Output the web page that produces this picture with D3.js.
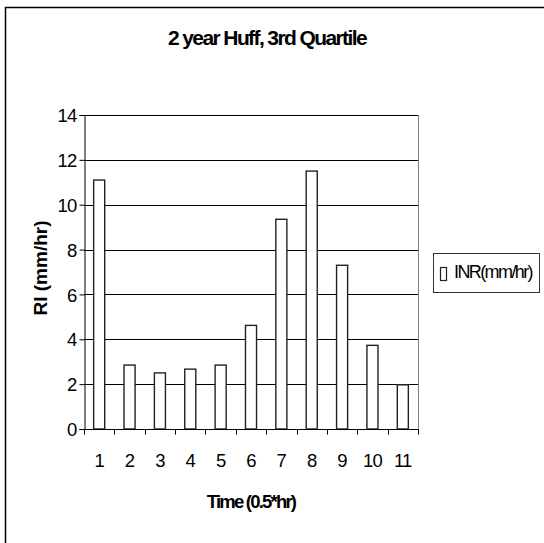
<!DOCTYPE html>
<html>
<head>
<meta charset="utf-8">
<script src="https://cdn.jsdelivr.net/npm/d3@7"></script>
<style>
  html, body { margin: 0; padding: 0; background: #fff; }
  svg { display: block; }
  text { font-family: "Liberation Sans", Arial, sans-serif; fill: #000; }
</style>
</head>
<body>
<svg id="chart" width="544" height="543"></svg>
<script>
// Rainfall intensity per half-hour step
const categories = ["1", "2", "3", "4", "5", "6", "7", "8", "9", "10", "11"];
const intensity = [11.1, 2.85, 2.5, 2.67, 2.85, 4.62, 9.35, 11.5, 7.3, 3.73, 1.97];
const yTicks = [0, 2, 4, 6, 8, 10, 12, 14];
const seriesName = "INR(mm/hr)";
const titleText = "2 year Huff, 3rd Quartile";
const xTitle = "Time (0.5*hr)";
const yTitle = "RI (mm/hr)";

const svg = d3.select("#chart");
const plot = { left: 84, right: 418, top: 115, bottom: 429 };

// Outer chart frame (open on the right and bottom edges of the window)
svg.append("rect")
  .attr("x", 5.5).attr("y", 7.5)
  .attr("width", 600).attr("height", 600)
  .attr("fill", "#fff")
  .attr("stroke", "#000").attr("stroke-width", 1.5);

const x = d3.scaleBand()
  .domain(categories)
  .range([plot.left, plot.right])
  .paddingInner(0.636)
  .paddingOuter(0.318);

const y = d3.scaleLinear().domain([0, 14]).range([plot.bottom, plot.top]);

// Horizontal gridlines
svg.append("g")
  .selectAll("line")
  .data(yTicks.filter(d => d > 0))
  .join("line")
  .attr("x1", plot.left).attr("x2", plot.right)
  .attr("y1", d => Math.round(y(d)) + 0.5).attr("y2", d => Math.round(y(d)) + 0.5)
  .attr("stroke", "#000").attr("stroke-width", 1);

// Right edge of the plot area
svg.append("line")
  .attr("x1", plot.right + 0.5).attr("x2", plot.right + 0.5)
  .attr("y1", plot.top).attr("y2", plot.bottom)
  .attr("stroke", "#808080").attr("stroke-width", 1);

// Bars
svg.append("g")
  .selectAll("rect")
  .data(intensity)
  .join("rect")
  .attr("x", (d, i) => x(categories[i]))
  .attr("y", d => y(d))
  .attr("width", x.bandwidth())
  .attr("height", d => y(0) - y(d))
  .attr("fill", "#fff")
  .attr("stroke", "#222").attr("stroke-width", 1.4);

// Y axis
const yAxis = d3.axisLeft(y).tickValues(yTicks).tickSize(5).tickPadding(3).tickFormat(d3.format("d"));
const gy = svg.append("g")
  .attr("transform", `translate(${plot.left + 0.5},0)`)
  .call(yAxis);
gy.select(".domain").attr("stroke", "#000");
gy.selectAll(".tick line").attr("stroke", "#000");
gy.selectAll(".tick text")
  .attr("font-size", 18.5)
  .attr("letter-spacing", -0.8)
  .attr("font-family", "Liberation Sans, Arial, sans-serif")
  .attr("dy", "0.36em");

// X axis: ticks sit on category boundaries
const gx = svg.append("g")
  .attr("transform", `translate(0,${plot.bottom + 0.5})`);
gx.append("line")
  .attr("x1", plot.left).attr("x2", plot.right + 1)
  .attr("stroke", "#000");
const boundaries = categories.map(c => x(c) - x.step() * x.paddingInner() / 2)
  .concat([plot.right]);
gx.selectAll("line.tk")
  .data(boundaries)
  .join("line")
  .attr("class", "tk")
  .attr("x1", d => Math.round(d) + 0.5).attr("x2", d => Math.round(d) + 0.5)
  .attr("y1", 0).attr("y2", 5)
  .attr("stroke", "#000");
gx.selectAll("text")
  .data(categories)
  .join("text")
  .attr("x", d => x(d) + x.bandwidth() / 2)
  .attr("y", 37.5)
  .attr("text-anchor", "middle")
  .attr("font-size", 18.5)
  .attr("letter-spacing", -0.8)
  .text(d => d);

// Titles
svg.append("text")
  .attr("x", 267).attr("y", 45)
  .attr("text-anchor", "middle")
  .attr("font-size", 21).attr("font-weight", "bold")
  .attr("letter-spacing", -1.6)
  .text(titleText);

svg.append("text")
  .attr("x", 251).attr("y", 508)
  .attr("text-anchor", "middle")
  .attr("font-size", 18.5).attr("font-weight", "bold")
  .attr("letter-spacing", -1.8)
  .text(xTitle);

svg.append("text")
  .attr("transform", "translate(47,268) rotate(-90)")
  .attr("text-anchor", "middle")
  .attr("font-size", 19).attr("font-weight", "bold")
  .text(yTitle);

// Legend
const lg = svg.append("g");
lg.append("rect")
  .attr("x", 433.5).attr("y", 253.5)
  .attr("width", 106).attr("height", 39)
  .attr("fill", "#fff")
  .attr("stroke", "#333").attr("stroke-width", 1);
lg.append("rect")
  .attr("x", 440.5).attr("y", 267.5)
  .attr("width", 6).attr("height", 13)
  .attr("fill", "#fff")
  .attr("stroke", "#222").attr("stroke-width", 1.2);
lg.append("text")
  .attr("x", 454).attr("y", 278)
  .attr("font-size", 18)
  .attr("letter-spacing", -1.6)
  .text(seriesName);
</script>
</body>
</html>
